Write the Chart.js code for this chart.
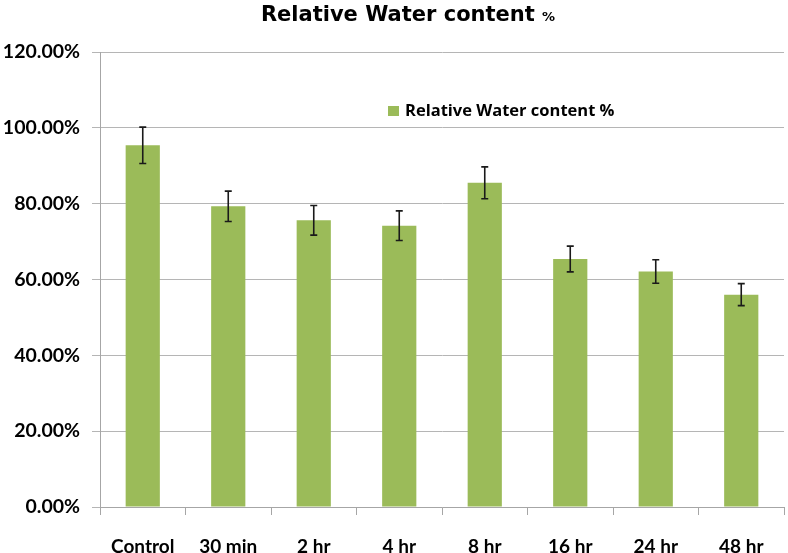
<!DOCTYPE html>
<html>
<head>
<meta charset="utf-8">
<script src="https://cdn.jsdelivr.net/npm/chart.js@4/dist/chart.umd.min.js"></script>
<style>
html,body{margin:0;padding:0;background:#fff;}
#wrap{width:788px;height:553px;position:relative;}
</style>
</head>
<body>
<div id="wrap"><canvas id="c" width="788" height="553"></canvas></div>
<script>
const categories = ["Control", "30 min", "2 hr", "4 hr", "8 hr", "16 hr", "24 hr", "48 hr"];
const values = [95.4, 79.3, 75.6, 74.2, 85.5, 65.4, 62.1, 56.0];
const errors = [4.8, 4.0, 3.9, 3.9, 4.2, 3.4, 3.1, 2.9];
const yTicks = [0, 20, 40, 60, 80, 100, 120];
const seriesName = "Relative Water content %";
const titleMain = "Relative Water content ";
const titleSuffix = "%";

const GREEN = "#9BBB59";

const errorBars = {
  id: "errorBars",
  afterDatasetsDraw(chart) {
    const ctx = chart.ctx;
    const meta = chart.getDatasetMeta(0);
    const y = chart.scales.y;
    ctx.save();
    ctx.strokeStyle = "#1a1a1a";
    ctx.lineWidth = 1.6;
    meta.data.forEach((bar, i) => {
      const x = bar.x;
      const top = y.getPixelForValue(values[i] + errors[i]);
      const bot = y.getPixelForValue(values[i] - errors[i]);
      ctx.beginPath();
      ctx.moveTo(x, top); ctx.lineTo(x, bot);
      ctx.moveTo(x - 3.5, top); ctx.lineTo(x + 3.5, top);
      ctx.moveTo(x - 3.5, bot); ctx.lineTo(x + 3.5, bot);
      ctx.stroke();
    });
    ctx.restore();
  }
};

const customText = {
  id: "customText",
  afterDraw(chart) {
    const ctx = chart.ctx;
    const a = chart.chartArea;
    ctx.save();
    // title
    ctx.fillStyle = "#000";
    ctx.textBaseline = "alphabetic";
    ctx.font = "bold 21px 'DejaVu Sans'";
    const w1 = ctx.measureText(titleMain).width;
    ctx.font = "bold 13px 'DejaVu Sans'";
    const w2 = ctx.measureText(titleSuffix).width;
    const x0 = 408 - (w1 + w2) / 2;
    ctx.font = "bold 21px 'DejaVu Sans'";
    ctx.fillText(titleMain, x0, 21);
    ctx.font = "bold 13px 'DejaVu Sans'";
    ctx.fillText(titleSuffix, x0 + w1, 21);
    // legend
    const lx = a.left + 288, ly = a.top + 54;
    ctx.fillStyle = GREEN;
    ctx.fillRect(lx, ly, 11, 10);
    ctx.fillStyle = "#000";
    ctx.font = "bold 16.5px 'Open Sans'";
    ctx.textBaseline = "middle";
    ctx.fillText(seriesName, lx + 17, ly + 5);
    ctx.restore();
  }
};

new Chart(document.getElementById("c"), {
  type: "bar",
  data: {
    labels: categories,
    datasets: [{
      label: seriesName,
      data: values,
      backgroundColor: GREEN,
      borderWidth: 0,
      barPercentage: 0.4,
      categoryPercentage: 1.0
    }]
  },
  options: {
    responsive: false,
    animation: false,
    devicePixelRatio: 1,
    layout: { padding: { top: 52, right: 4, left: 0, bottom: 0 } },
    plugins: {
      legend: { display: false },
      title: { display: false },
      tooltip: { enabled: false }
    },
    scales: {
      x: {
        afterFit(scale) { scale.height = 46; },
        grid: { offset: true, drawOnChartArea: false, color: "#a6a6a6", tickLength: 8, lineWidth: 1 },
        border: { color: "#a6a6a6" },
        ticks: { color: "#000", font: { family: "Lato", weight: "bold", size: 19 }, padding: 20, maxRotation: 0 }
      },
      y: {
        min: 0, max: 120,
        afterBuildTicks(scale) { scale.ticks = yTicks.map(v => ({ value: v })); },
        afterFit(scale) { scale.width = 100; },
        grid: { color: "#b5b5b5", tickLength: 8, lineWidth: 1 },
        border: { color: "#a6a6a6" },
        ticks: {
          color: "#000",
          font: { family: "Lato", weight: "bold", size: 19.5 },
          padding: 12,
          callback: v => v.toFixed(2) + "%"
        }
      }
    }
  },
  plugins: [errorBars, customText]
});
</script>
</body>
</html>
